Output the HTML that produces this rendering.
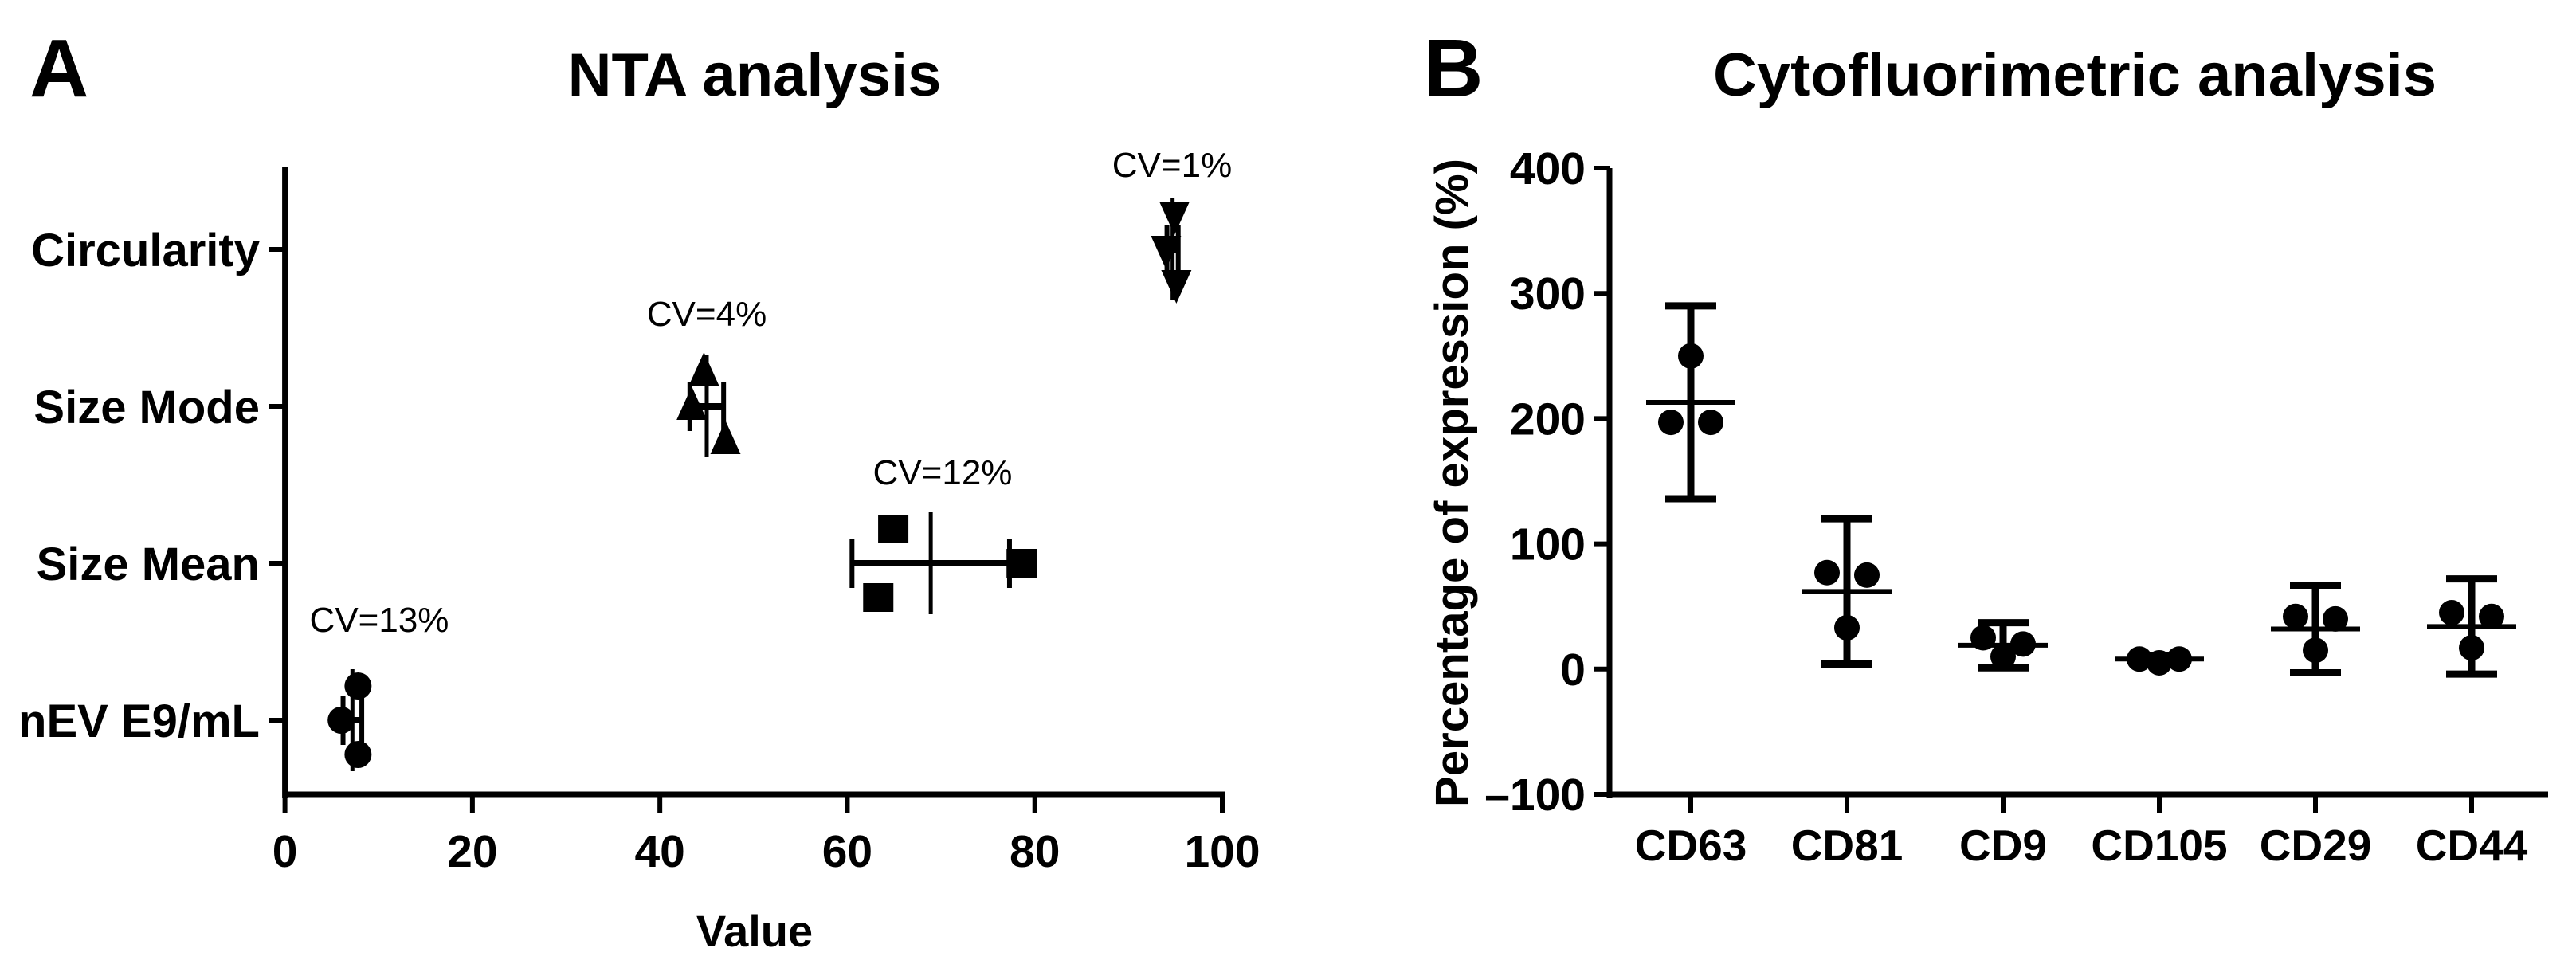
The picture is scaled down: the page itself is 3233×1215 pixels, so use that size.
<!DOCTYPE html>
<html><head><meta charset="utf-8"><style>
html,body{margin:0;padding:0;background:#fff;}
svg{display:block;font-family:"Liberation Sans",Arial,sans-serif;}
</style></head><body>
<svg id="fig" width="3233" height="1215" viewBox="0 0 3233 1215" xmlns="http://www.w3.org/2000/svg">
<rect width="3233" height="1215" fill="#fff"/>
<text x="37" y="121" font-size="103" font-weight="bold">A</text>
<text x="947" y="120" font-size="76" font-weight="bold" text-anchor="middle">NTA analysis</text>
<text x="947" y="1188" font-size="56" font-weight="bold" text-anchor="middle">Value</text>
<text x="1787" y="121" font-size="103" font-weight="bold">B</text>
<text x="2604" y="120" font-size="76" font-weight="bold" text-anchor="middle">Cytofluorimetric analysis</text>
<text transform="translate(1842,606) rotate(-90)" font-size="58" font-weight="bold" text-anchor="middle" textLength="814" lengthAdjust="spacingAndGlyphs">Percentage of expression (%)</text>
<g id="ga"></g><g id="gb"></g>
</svg>
<script>
// ---- Panel A data ----
const aCategories = ["Circularity","Size Mode","Size Mean","nEV  E9/mL"];
const aPoints = [[94.9,94.0,95.1],[44.7,43.4,47.0],[64.9,78.6,63.3],[7.8,6.0,7.8]];
const aMeans = [94.7,45.0,68.9,7.2];
const aSD = [0.6,1.8,8.4,1.0];
const aCV = ["CV=1%","CV=4%","CV=12%","CV=13%"];
const aMarkers = ["tridown","triup","square","circle"];
const aXTicks = [0,20,40,60,80,100];
// ---- Panel B data ----
const bCategories = ["CD63","CD81","CD9","CD105","CD29","CD44"];
const bLeft = [197,77,25,8,42,45];
const bCenter = [250,33,10,5,15,17];
const bRight = [197,75,20,8,40,42];
const bMeans = [213,62,19,8,32,34];
const bSD = [77,58,18,3,35,38];
const bYTicks = [-100,0,100,200,300,400];

const NS="http://www.w3.org/2000/svg";
function mk(parent,tag,attrs,text){const e=document.createElementNS(NS,tag);for(const k in attrs)e.setAttribute(k,attrs[k]);if(text!==undefined)e.textContent=text;parent.appendChild(e);return e;}

// Panel A
const ga=document.getElementById('ga');
const ax0=357.6, ax1=1534, ayTop=210, ayBot=997;
const xA=v=>ax0+(v-0)/(100-0)*(ax1-ax0);
const catY=[313,510,707,904];
const yA=i=>catY[0]+i*(catY[3]-catY[0])/(aCategories.length-1);
let e;
e=mk(ga,'line',{x1:ax0,y1:ayTop,x2:ax0,y2:ayBot+4,stroke:'#000','stroke-width':7});


e=mk(ga,'line',{x1:ax0-3,y1:ayBot,x2:ax1+3,y2:ayBot,stroke:'#000','stroke-width':7});


aXTicks.forEach(t=>{
  const x=xA(t);
  e=mk(ga,'line',{x1:x,y1:ayBot,x2:x,y2:ayBot+24,stroke:'#000','stroke-width':6});
  
  
  e=mk(ga,'text',{x:x,y:1088,'font-size':57,'font-weight':'bold','text-anchor':'middle'},String(t));
  
  
});
const jit=[-43,0,43];
aCategories.forEach((c,i)=>{
  const y=yA(i);
  e=mk(ga,'line',{x1:ax0-20,y1:y,x2:ax0,y2:y,stroke:'#000','stroke-width':6});
  
  
  e=mk(ga,'text',{x:326,y:y+21,'font-size':58,'font-weight':'bold','text-anchor':'end'},c);
  
  
  const g=mk(ga,'g',{});
  
  
  const lo=xA(aMeans[i]-aSD[i]), hi=xA(aMeans[i]+aSD[i]), m=xA(aMeans[i]);
  e=mk(g,'line',{x1:lo,y1:y,x2:hi,y2:y,stroke:'#000','stroke-width':8});
  
  
  [lo,hi].forEach(x=>{e=mk(g,'line',{x1:x,y1:y-31,x2:x,y2:y+31,stroke:'#000','stroke-width':6});
  
  });
  e=mk(g,'line',{x1:m,y1:y-64,x2:m,y2:y+64,stroke:'#000','stroke-width':5});
  
  
  aPoints[i].forEach((v,j)=>{
    const px=xA(v), py=y+jit[j]; const s=19;
    let p;
    if(aMarkers[i]==='circle') p=mk(g,'circle',{cx:px,cy:py,r:17,fill:'#000'});
    else if(aMarkers[i]==='square') p=mk(g,'rect',{x:px-19,y:py-18,width:38,height:36,fill:'#000'});
    else if(aMarkers[i]==='triup') p=mk(g,'polygon',{points:`${px},${py-s-6} ${px-s},${py+s-2} ${px+s},${py+s-2}`,fill:'#000'});
    else p=mk(g,'polygon',{points:`${px},${py+s+6} ${px-s},${py-s+2} ${px+s},${py-s+2}`,fill:'#000'});
    
    
  });
  const cvY=[206,393,592,777][i];
  const cvX=[1471,887,1183,476][i];
  e=mk(ga,'text',{x:cvX,y:cvY+16,'font-size':44,'text-anchor':'middle'},aCV[i]);
  
  
});

// Panel B
const gb=document.getElementById('gb');
const bx0=2020, bx1=3198, byTop=211, byBot=997;
const yB=v=>byBot-(v-(-100))/(400-(-100))*(byBot-byTop);
const xB=i=>2122+i*196;
e=mk(gb,'line',{x1:bx0,y1:byTop,x2:bx0,y2:byBot+4,stroke:'#000','stroke-width':7});


e=mk(gb,'line',{x1:bx0-3,y1:byBot,x2:bx1,y2:byBot,stroke:'#000','stroke-width':7});


bYTicks.forEach(t=>{
  const y=yB(t);
  e=mk(gb,'line',{x1:bx0-20,y1:y,x2:bx0,y2:y,stroke:'#000','stroke-width':6});
  
  
  e=mk(gb,'text',{x:1990,y:y+20,'font-size':57,'font-weight':'bold','text-anchor':'end'},t<0?'\u2013'+Math.abs(t):String(t));
  
  
});
bCategories.forEach((c,i)=>{
  const x=xB(i);
  e=mk(gb,'line',{x1:x,y1:byBot,x2:x,y2:byBot+23,stroke:'#000','stroke-width':6});
  
  
  e=mk(gb,'text',{x:x,y:1080,'font-size':55,'font-weight':'bold','text-anchor':'middle'},c);
  
  
  const g=mk(gb,'g',{});
  
  
  const hi=yB(bMeans[i]+bSD[i]), lo=yB(bMeans[i]-bSD[i]);
  e=mk(g,'line',{x1:x,y1:hi,x2:x,y2:lo,stroke:'#000','stroke-width':9});
  
  
  [hi,lo].forEach(y=>{e=mk(g,'line',{x1:x-32,y1:y,x2:x+32,y2:y,stroke:'#000','stroke-width':9});
  
  });
  e=mk(g,'line',{x1:x-56,y1:yB(bMeans[i]),x2:x+56,y2:yB(bMeans[i]),stroke:'#000','stroke-width':6});
  
  
  [[bLeft,-25],[bCenter,0],[bRight,25]].forEach(([arr,dx])=>{
    e=mk(g,'circle',{cx:x+dx,cy:yB(arr[i]),r:16,fill:'#000'});
    
    
  });
});
</script>
</body></html>
